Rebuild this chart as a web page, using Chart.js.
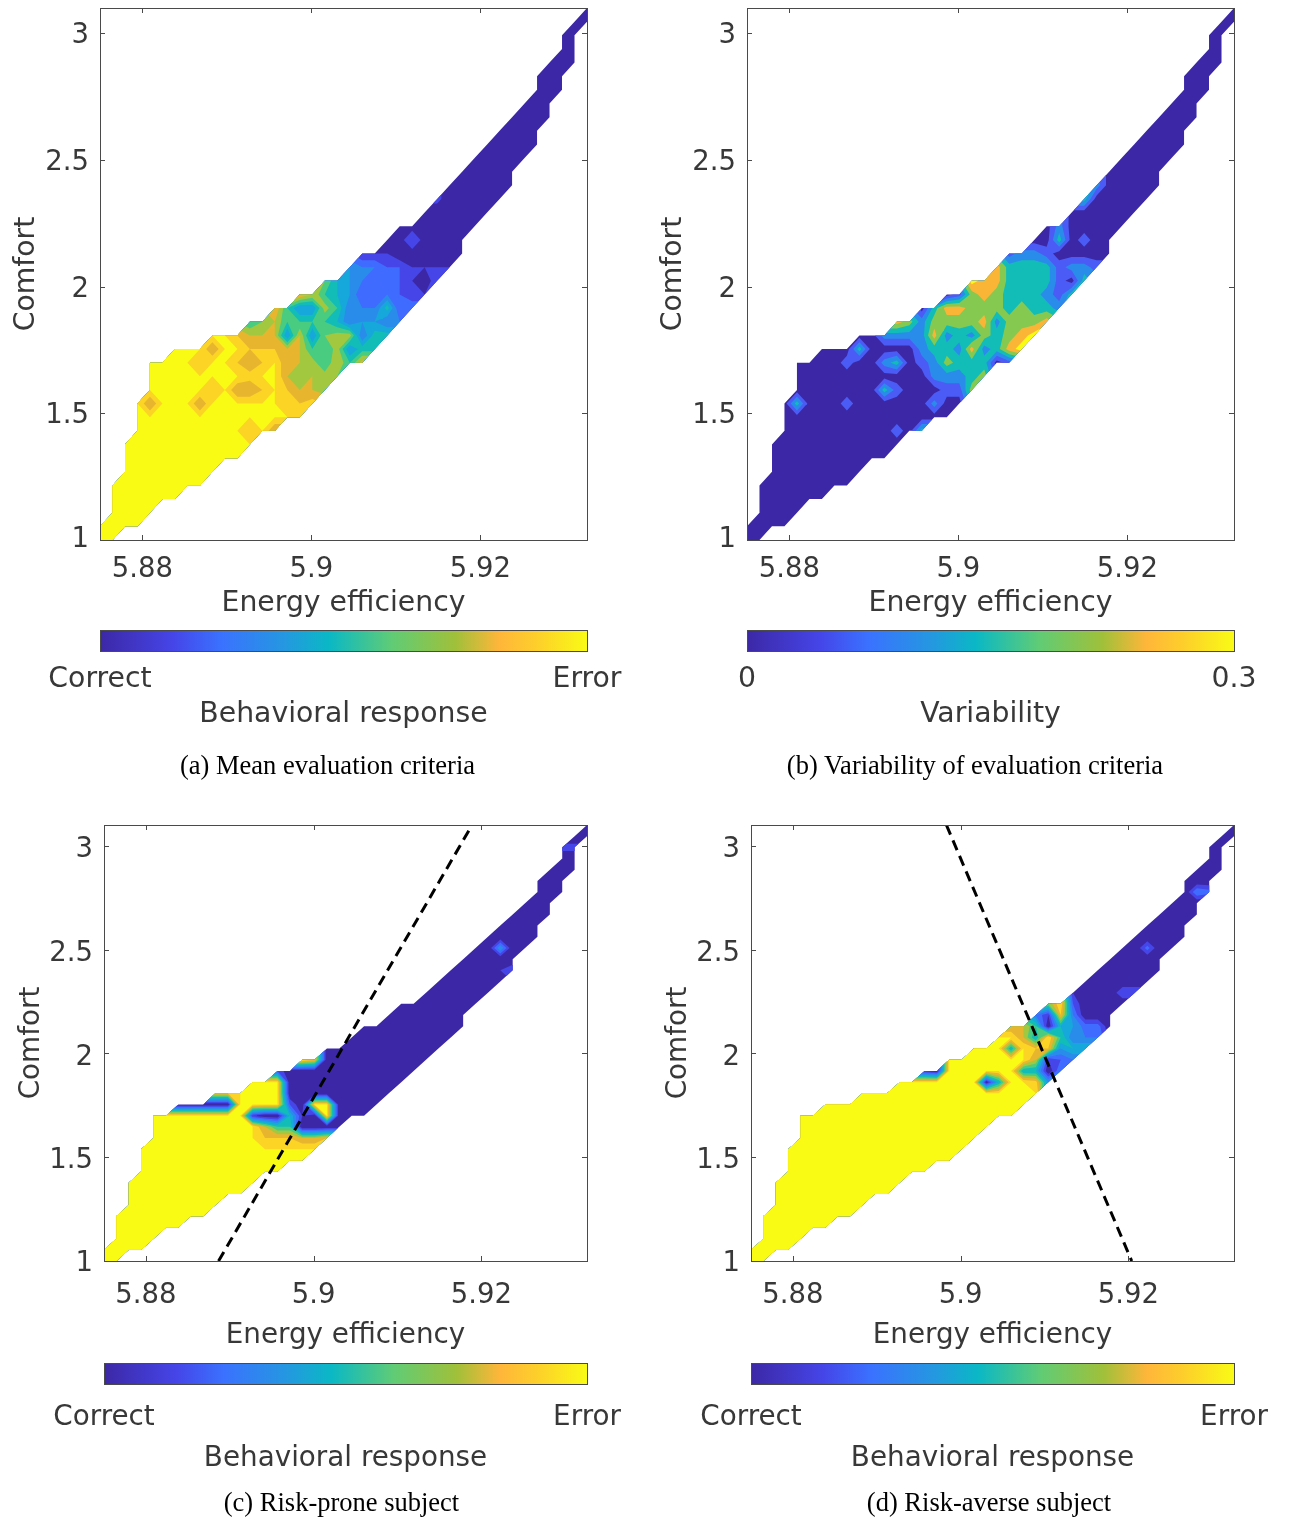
<!DOCTYPE html>
<html><head><meta charset="utf-8">
<script src="https://cdn.jsdelivr.net/npm/chart.js@4"></script>
<style>
html,body{margin:0;padding:0;background:#fff}
#page{position:relative;width:1290px;height:1517px;overflow:hidden;filter:blur(.45px)}
canvas{position:absolute}
.cap{position:absolute;transform:translateX(-50%);white-space:nowrap;font:26.5px "Liberation Serif",serif;color:#000;line-height:30px}
</style></head><body><div id="page">
<div class="cap" style="left:327.5px;top:750px">(a) Mean evaluation criteria</div>
<div class="cap" style="left:975px;top:750px">(b) Variability of evaluation criteria</div>
<div class="cap" style="left:341.5px;top:1487px">(c) Risk-prone subject</div>
<div class="cap" style="left:989px;top:1487px">(d) Risk-averse subject</div>
</div>
<script>
// axis values
const xRange=[5.875,5.9326], yRange=[1,3.1];
const xTickValues=[5.88,5.9,5.92], yTickValues=[1,1.5,2,2.5,3];
const gridSize=40;
// lowest grid row present in each of the 40 columns
const columnStart=[0,0,1,1,2,3,3,4,4,5,6,6,7,8,8,9,9,10,11,12,13,13,14,15,16,17,18,19,20,21,23,24,25,26,28,29,31,33,35,38];
// node values per column, bottom to top; a=10, "+" adds one half
const meanColumns=["aa","aaaaa","aaaaaaa","aaaaaaaaaa","aaaaaaaa8aaa","aaaaaaaaaaa","aaaaaaaaaaaa","aaaaaaaaaaa","aaaaaa8aa9a","aaaaaa9aa8a","aaaaaaaaaa","aaaaa8a9a9","a9aa89+8986","aaa9a9987","8aaaaa9889","a99888466","a987+888649","9+887+64648","7+7+66767+67","787+7+5655","647+33444","8+5+3432331","5+5+432231","5+35+32210","3222200+0","31110+20+","1010+0+00","2100001+","1000000","0000000","000000","000000","000000","000000","00000","000000","00000","00000","0000","00"];
const variabilityColumns=["00","00000","0000000","0000000000","000000003000","00000000000","000000000000","00000000000","00000010010","00000000030","0000000000","0000030202","0100103025","000000024","3000012220","020223543","0012432450","012323451","433524446","43245455","03324455","154433331","65443332","64333320","53233100","2111032","3020000","3201003","1000002","0000000","000000","000000","000000","000000","00000","000000","00000","00000","0000","00"];
const proneColumns=["aa","aaaaa","aaaaaaa","aaaaaaaaaa","aaaaaaaaaaaa","aaaaaaaaaaa","aaaaaaaaaaa0","aaaaaaaaaa0","aaaaaaaaaa0","aaaaaaaaa09","aaaaaaaa09","aaaaaaaaaa","aaaaaa1aaa","aaa980aaa","aaa960aaa2","aa9652000","aa8010000a","a800a0009","90aa00000","00000000","00000000","000000000","00000000","00000000","00000000","0000000","0000000","0000000","0000000","0000000","000000","000000","010400","200000","00000","000000","00000","00001+","001+0","00"];
const averseColumns=["aa","aaaaa","aaaaaaa","aaaaaaaaaa","aaaaaaaaaaaa","aaaaaaaaaaa","aaaaaaaaaaaa","aaaaaaaaaaa","aaaaaaaaaaa","aaaaaaaaaaa","aaaaaaaaaa","aaaaaaaaaa","aaaaaaaaaa","aaaaaaaaa","aaaaaaaaa1","aaaaaaaa0","aaaaaaaaaa","aaaaaaaaa","aaaaaaaaa","aaaa0aaa","aaa5aaaa","aaaaaa5a8","aaa5aa88","a9+589563","4019a017","324659a","3534321","532+0000","32+00000","0000000","020000","200000","0002+00","000000","00000","000000","00300","2+0000","0000","00"];
// contour band colours, low to high
const behaviourBands=["#3c28a6","#4545e8","#3f6bff","#2a8cea","#17a8db","#12bdb8","#4acc80","#a2c840","#e8b52f","#fbd426","#f9fb15"];
const variabilityBands=["#3c28a6","#4a5cf5","#2a8cea","#12bdb8","#85c951","#fbb536","#f9fb15"];
// colour bar stops
const barStops=[[0,"#3c28a6"],[.15,"#4545e8"],[.25,"#3a72ff"],[.38,"#2498e0"],[.47,"#0ab8c5"],[.6,"#60cc75"],[.73,"#a0c03a"],[.82,"#ffb63a"],[.9,"#fdd02a"],[1,"#f9fb15"]];
// decision lines
const proneLine=[{x:5.88866,y:1},{x:5.9189,y:3.1}];
const averseLine=[{x:5.8983,y:3.1},{x:5.9204,y:1}];

const fontFamily='"DejaVu Sans",sans-serif', textColor='#383838', tickSize=27.5;
const frame={id:'frame',
 beforeDraw(c,_,o){if(o.ticks){const it=c.scales.y.getLabelItems().find(t=>t.label==='1');if(it)it.options.translation[1]-=o.oneShift;}},
 afterDatasetsDraw(c,_,o){
  const a=c.chartArea,g=c.ctx;g.save();g.strokeStyle='#4a4a4a';g.lineWidth=1;
  g.strokeRect(Math.round(a.left)+.5,Math.round(a.top)+.5,Math.round(a.right-a.left),Math.round(a.bottom-a.top));
  if(o.ticks){const L=5;g.beginPath();
    for(const v of xTickValues){const p=Math.round(c.scales.x.getPixelForValue(v))+.5;g.moveTo(p,a.top);g.lineTo(p,a.top+L);g.moveTo(p,a.bottom);g.lineTo(p,a.bottom-L);}
    for(const v of yTickValues){const p=Math.round(c.scales.y.getPixelForValue(v))+.5;g.moveTo(a.left,p);g.lineTo(a.left+L,p);g.moveTo(a.right,p);g.lineTo(a.right-L,p);}
    g.stroke();}
  g.restore();}};
const noPad=s=>{s.paddingLeft=s.paddingRight=s.paddingTop=s.paddingBottom=0;};

function parseColumns(cols){return cols.map(s=>s.match(/\d\+?|a/g).map(t=>t==='a'?10:t.endsWith('+')?parseInt(t)+.5:+t));}
// One continuous outline per band: cell pieces are joined by connectors walked out and back, so they fill as one shape.
function bandOutline(cols,level){
  const vals=parseColumns(cols),pts=[],starts=[];
  const dx=(xRange[1]-xRange[0])/(gridSize-1),dy=(yRange[1]-yRange[0])/(gridSize-1);
  const at=(i,j)=>{if(i<0||i>=gridSize)return null;const v=vals[i][j-columnStart[i]];return v===undefined?null:{x:xRange[0]+i*dx,y:yRange[0]+j*dy,v};};
  for(let i=0;i<gridSize-1;i++)for(let j=0;j<gridSize-1;j++){
    const poly=[at(i,j),at(i+1,j),at(i+1,j+1),at(i,j+1)].filter(Boolean);
    if(poly.length<3)continue;
    const out=[];
    poly.forEach((p,k)=>{const q=poly[(k+1)%poly.length];
      if(p.v>=level)out.push(p);
      if((p.v>=level)!==(q.v>=level)){const t=(level-p.v)/(q.v-p.v);out.push({x:p.x+t*(q.x-p.x),y:p.y+t*(q.y-p.y)});}
    });
    if(out.length>=3){out.forEach(p=>pts.push({x:p.x,y:p.y}));pts.push({x:out[0].x,y:out[0].y});starts.push({x:out[0].x,y:out[0].y});}
  }
  for(let k=starts.length-2;k>=0;k--)pts.push(starts[k]);
  return pts;
}
function addCanvas(left,top,w,h){const c=document.createElement('canvas');c.width=w;c.height=h;c.style.cssText=`left:${left}px;top:${top}px;width:${w}px;height:${h}px`;document.getElementById('page').appendChild(c);return c;}
function plot(o){
  const datasets=o.bands.map((color,k)=>({data:bandOutline(o.cols,k===0?-1:k-o.levelShift),fill:'shape',backgroundColor:color,borderColor:color,borderWidth:0,borderDash:[4,0],pointRadius:0,tension:0,spanGaps:false,order:o.bands.length-k}));
  if(o.line)datasets.push({data:o.line,borderColor:'#000',borderWidth:3,borderDash:[10.5,6.3],pointRadius:0,fill:false,order:-1});
  new Chart(addCanvas(o.left,o.top-8,640,o.bottom-o.top+8+o.xH),{type:'line',data:{datasets},plugins:[frame],options:{
    responsive:false,animation:false,events:[],
    layout:{padding:{top:8,right:53,left:0,bottom:0}},
    plugins:{legend:{display:false},tooltip:{enabled:false},frame:{ticks:true,oneShift:o.oneShift}},
    scales:{
      x:{type:'linear',min:xRange[0],max:xRange[1],grid:{display:false},border:{display:false},
        afterBuildTicks:s=>{s.ticks=xTickValues.map(value=>({value}));},afterFit:s=>{s.height=o.xH;noPad(s);},
        ticks:{autoSkip:false,maxRotation:0,padding:o.xPad,color:textColor,font:{family:fontFamily,size:tickSize},callback:v=>String(v)},
        title:{display:true,text:'Energy efficiency',color:textColor,font:{family:fontFamily,size:o.titleSize},padding:{top:0,bottom:0}}},
      y:{min:yRange[0],max:yRange[1],grid:{display:false},border:{display:false},
        afterBuildTicks:s=>{s.ticks=yTickValues.map(value=>({value}));},afterFit:s=>{s.width=o.yW;noPad(s);},
        ticks:{autoSkip:false,padding:3,labelOffset:o.yLabelOffset,color:textColor,font:{family:fontFamily,size:tickSize},callback:v=>String(v)},
        title:{display:true,text:'Comfort',color:textColor,font:{family:fontFamily,size:o.titleSize},padding:{top:o.yTitlePad,bottom:0}}}
    }}});
}
function colorbar(o){
  const pad=10;
  new Chart(addCanvas(o.left,o.top-pad,640,pad+21+o.h),{type:'bar',data:{labels:[''],datasets:[{data:[1],barPercentage:1,categoryPercentage:1,
    backgroundColor:ctx=>{const a=ctx.chart.chartArea;if(!a)return '#888';const g=ctx.chart.ctx.createLinearGradient(a.left,0,a.right,0);barStops.forEach(s=>g.addColorStop(s[0],s[1]));return g;}}]},
    plugins:[frame],options:{responsive:false,animation:false,events:[],indexAxis:'y',
    layout:{padding:{top:pad,right:53,left:o.yW,bottom:0}},
    plugins:{legend:{display:false},tooltip:{enabled:false},frame:{ticks:false}},
    scales:{y:{display:false},
      x:{type:'linear',min:0,max:1,grid:{display:false},border:{display:false},
        afterBuildTicks:s=>{s.ticks=[{value:0},{value:1}];},afterFit:s=>{s.height=o.h;noPad(s);},
        ticks:{autoSkip:false,maxRotation:0,padding:o.pad,color:textColor,font:{family:fontFamily,size:o.titleSize},callback:v=>v===0?o.low:o.high},
        title:{display:true,text:o.title,color:textColor,font:{family:fontFamily,size:o.titleSize},padding:{top:0,bottom:0}}}}}});
}
plot({cols:meanColumns,bands:behaviourBands,levelShift:0,left:0,top:8,bottom:540,yW:100,xH:81,xPad:5,yTitlePad:10,titleSize:28.3,yLabelOffset:3,oneShift:3});
plot({cols:variabilityColumns,bands:variabilityBands,levelShift:.5,left:647,top:8,bottom:540,yW:100,xH:81,xPad:5,yTitlePad:10,titleSize:28.3,yLabelOffset:3,oneShift:3});
plot({cols:proneColumns,bands:behaviourBands,levelShift:0,line:proneLine,left:0,top:825,bottom:1261,yW:104,xH:91,xPad:10,yTitlePad:15,titleSize:27.8,yLabelOffset:4,oneShift:1});
plot({cols:averseColumns,bands:behaviourBands,levelShift:0,line:averseLine,left:647,top:825,bottom:1261,yW:104,xH:91,xPad:10,yTitlePad:15,titleSize:27.8,yLabelOffset:4,oneShift:1});
colorbar({left:0,top:630,yW:100,h:81,pad:4,titleSize:28.3,low:'Correct',high:'Error',title:'Behavioral response'});
colorbar({left:647,top:630,yW:100,h:81,pad:4,titleSize:28.3,low:'0',high:'0.3',title:'Variability'});
colorbar({left:0,top:1363,yW:104,h:91,pad:9,titleSize:27.8,low:'Correct',high:'Error',title:'Behavioral response'});
colorbar({left:647,top:1363,yW:104,h:91,pad:9,titleSize:27.8,low:'Correct',high:'Error',title:'Behavioral response'});
</script></body></html>
